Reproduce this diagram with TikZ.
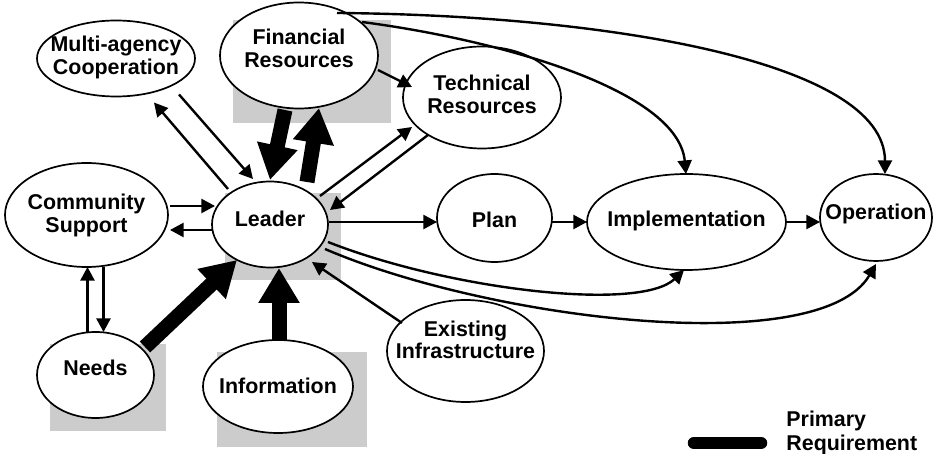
\documentclass[tikz,border=0pt]{standalone}
\usepackage{fontspec}
\setmainfont{Liberation Sans}
\usetikzlibrary{shapes.geometric,arrows.meta,calc}
\newcommand{\ntxt}[2][0pt]{\makebox[0pt]{\raisebox{#1}[\height][\depth]{\begin{tabular}{@{}c@{}}#2\end{tabular}}}}
\begin{document}
\begin{tikzpicture}[x=0.5pt,y=-0.5pt,
  every node/.style={font=\bfseries\fontsize{10.7}{11.3}\selectfont},
  ell/.style={ellipse, draw, fill=white, line width=0.85pt, inner sep=0pt},
  shadowbox/.style={fill=black!20, draw=none},
  arr/.style={line width=1.2pt, -{Triangle[length=6.8pt,width=7pt]}},
  big/.style={line width=7.5pt, -{Triangle[length=17.5pt,width=19.5pt]}},
  legendbar/.style={line width=6.25pt, line cap=round},
]
\useasboundingbox (0,0) rectangle (934,454);
% shadows
\fill[shadowbox] (233,20) rectangle (391,123);
\fill[shadowbox] (225,193) rectangle (341,280);
\fill[shadowbox] (50,344) rectangle (166,431);
\fill[shadowbox] (217,352) rectangle (367,447);
% nodes
\node[ell, minimum width=79pt, minimum height=38pt] (mac) at (116,58.5) {\ntxt{Multi-agency\\Cooperation}};
\node[ell, minimum width=79pt, minimum height=53pt] (fin) at (299,55.5) {\ntxt[2pt]{Financial\\Resources}};
\node[ell, minimum width=79pt, minimum height=51pt] (tech) at (482,97.5) {\ntxt{Technical\\Resources}};
\node[ell, minimum width=81.5pt, minimum height=52pt] (com) at (86.5,215) {\ntxt[-0.75pt]{Community\\Support}};
\node[ell, minimum width=58pt, minimum height=43pt] (lead) at (270,224.5) {\ntxt[1.25pt]{Leader}};
\node[ell, minimum width=57.5pt, minimum height=44pt] (plan) at (494.5,218) {\ntxt[-2.5pt]{Plan}};
\node[ell, minimum width=99.5pt, minimum height=48pt] (impl) at (686.5,222) {\ntxt{Implementation}};
\node[ell, minimum width=56pt, minimum height=43.5pt] (op) at (876,217.5) {\ntxt[1.25pt]{Operation}};
\node[ell, minimum width=58.5pt, minimum height=43pt] (need) at (95.5,375) {\ntxt[2pt]{Needs}};
\node[ell, minimum width=75pt, minimum height=46.5pt] (info) at (278,386.5) {\ntxt[-1pt]{Information}};
\node[ell, minimum width=78.5pt, minimum height=51pt] (exist) at (465.5,351) {\ntxt[4pt]{Existing\\Infrastructure}};
% legend
\coordinate (lgA) at (694,443);
\coordinate (lgB) at (761,443);
\draw[legendbar] (lgA) -- (lgB);
\node[anchor=west, align=left, inner sep=0pt, font=\bfseries\fontsize{10.7}{12}\selectfont] (legtext) at (786,433) {Primary\\Requirement};
% thin arrows
\draw[arr] ($(lead)+(-42,-35.5)$) -- ($(mac)+(38,44)$);
\draw[arr] ($(mac)+(63,36)$) -- ($(lead)+(-17,-45.5)$);
\draw[arr] ($(fin)+(79,14.5)$) -- ($(tech)+(-70,-10.5)$);
\draw[arr] ($(lead)+(50,-28.5)$) -- ($(tech)+(-70,29.5)$);
\draw[arr] ($(tech)+(-54,37.5)$) -- ($(lead)+(60,-14.5)$);
\draw[arr] ($(com)+(83.5,-9)$) -- ($(lead)+(-55,-18.5)$);
\draw[arr] ($(lead)+(-57,5.5)$) -- ($(com)+(83.5,15)$);
\draw[arr] ($(lead)+(59,-2.5)$) -- ($(plan)+(-57.5,4)$);
\draw[arr] ($(plan)+(57.5,4)$) -- ($(impl)+(-99.5,0)$);
\draw[arr] ($(impl)+(99.5,0)$) -- ($(op)+(-56,4.5)$);
\draw[arr] ($(need)+(-8,-43)$) -- ($(com)+(1,52)$);
\draw[arr] ($(com)+(17,52)$) -- ($(need)+(8,-43)$);
\draw[arr] ($(exist)+(-63.5,-28)$) -- ($(lead)+(42,37.5)$);
% curved arrows
\draw[arr] ($(lead)+(58,17.5)$) .. controls (450,290) and (640,312) .. ($(impl)+(-2.5,48)$);
\draw[arr] ($(lead)+(55,24.5)$) .. controls (490,320) and (820,360) .. ($(op)+(0,46.5)$);
\draw[arr] ($(fin)+(63,-33.5)$) .. controls (500,40) and (678,90) .. ($(impl)+(-0.5,-48)$);
\draw[arr] ($(fin)+(38,-42.5)$) .. controls (600,15) and (885,60) .. ($(op)+(9,-43.5)$);
% primary requirement arrows
\draw[big] ($(fin)+(-14,54.5)$) -- ($(lead)+(0,-44.5)$);
\draw[big] ($(lead)+(37,-42.5)$) -- ($(fin)+(20,52.5)$);
\draw[big] ($(need)+(49.5,-28)$) -- ($(lead)+(-33,35.5)$);
\draw[big] ($(info)+(1,-46.5)$) -- ($(lead)+(9,43.5)$);
\end{tikzpicture}
\end{document}
